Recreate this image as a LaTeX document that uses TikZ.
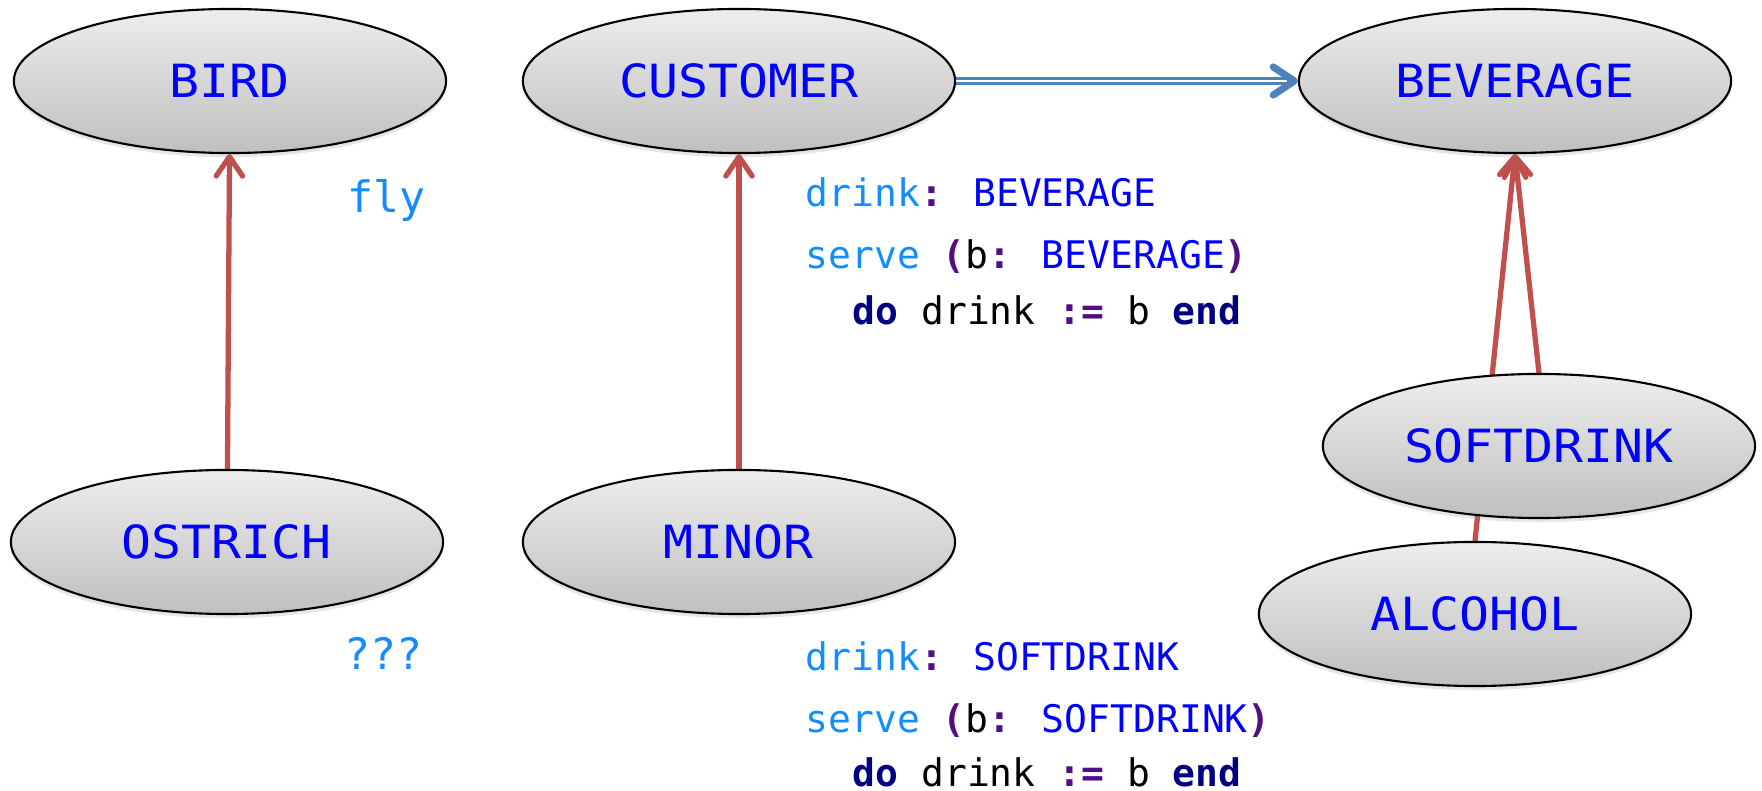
\documentclass[tikz,border=0pt]{standalone}
\usepackage{fontspec}
\newfontfamily\monolabel[FakeStretch=1.09]{DejaVu Sans Mono}
\newfontfamily\monocode{DejaVu Sans Mono}
\usetikzlibrary{shapes.geometric,arrows.meta,shadows}

\definecolor{typeblue}{RGB}{0,0,255}
\definecolor{featblue}{RGB}{20,140,255}
\definecolor{punct}{RGB}{80,15,130}
\definecolor{kwnavy}{RGB}{0,0,128}
\definecolor{inhred}{RGB}{192,80,77}
\definecolor{clientblue}{RGB}{79,129,189}

% code highlighting helpers
\newcommand\cdid[1]{\textcolor{featblue}{#1}}
\newcommand\cdty[1]{\textcolor{typeblue}{#1}}
\newcommand\cdpu[1]{\textcolor{punct}{\bfseries #1}}
\newcommand\cdkw[1]{\textcolor{kwnavy}{\bfseries #1}}

\pgfdeclarelayer{bg}
\pgfsetlayers{bg,main}

\begin{document}
\begin{tikzpicture}[x=0.01cm,y=-0.01cm,
  cls/.style={ellipse, draw=black, line width=0.6pt,
    minimum width=4.32cm, minimum height=1.44cm, inner sep=0pt,
    top color=black!7, bottom color=black!25,
    font=\monolabel\fontsize{13}{15}\selectfont, text=typeblue,
    drop shadow={shadow xshift=0pt, shadow yshift=-1.2pt, opacity=0.2}},
  inherit/.style={draw=inhred, line width=1.5pt,
    -{Straight Barb[length=5.5pt,width=7.5pt,round]}},
  code/.style={anchor=base west, inner sep=0pt,
    font=\monocode\fontsize{10.8}{13}\selectfont},
  note/.style={anchor=base west, inner sep=0pt,
    font=\monocode\fontsize{12.3}{15}\selectfont, text=featblue}]

\useasboundingbox (0,0) rectangle (1762,791);

% classes
\node[cls] (BIRD)      at (230,81)   {BIRD};
\node[cls] (CUSTOMER)  at (739,81)   {CUSTOMER};
\node[cls] (BEVERAGE)  at (1515,81)  {BEVERAGE};
\node[cls] (OSTRICH)   at (227,542)  {OSTRICH};
\node[cls] (MINOR)     at (739,542)  {MINOR};
\node[cls] (SOFTDRINK) at (1539,446) {SOFTDRINK};
\node[cls] (ALCOHOL)   at (1475,614) {ALCOHOL};

% inheritance links, kept behind the ellipses
\begin{pgfonlayer}{bg}
  \draw[inherit] (OSTRICH) -- (BIRD);
  \draw[inherit] (MINOR) -- (CUSTOMER);
  \draw[inherit] (ALCOHOL.north) -- (BEVERAGE.south);
  \draw[inherit] (SOFTDRINK.north) -- (BEVERAGE.south);
\end{pgfonlayer}

% client link
\draw[clientblue, line width=0.8pt, double=white, double distance=0.7pt]
  (CUSTOMER.east) -- ([xshift=-3pt]BEVERAGE.west);
\draw[clientblue, line width=2pt, -{Straight Barb[length=6pt,width=8pt,round]}]
  ([xshift=-3pt]BEVERAGE.west) -- (BEVERAGE.west);

% features
\node[note] (fly) at (347,213) {fly};
\node[note] (qqq) at (344,670) {???};

\node[code] (c1a) at (805,207) {\cdid{drink}\cdpu{:} \cdty{BEVERAGE}};
\node[code] (c1b) at (805,269) {\cdid{serve} \cdpu{(}b\cdpu{:} \cdty{BEVERAGE}\cdpu{)}};
\node[code] (c1c) at (852,325) {\cdkw{do} drink \cdpu{:=} b \cdkw{end}};

\node[code] (c2a) at (805,671) {\cdid{drink}\cdpu{:} \cdty{SOFTDRINK}};
\node[code] (c2b) at (805,733) {\cdid{serve} \cdpu{(}b\cdpu{:} \cdty{SOFTDRINK}\cdpu{)}};
\node[code] (c2c) at (852,787) {\cdkw{do} drink \cdpu{:=} b \cdkw{end}};
\end{tikzpicture}
\end{document}
